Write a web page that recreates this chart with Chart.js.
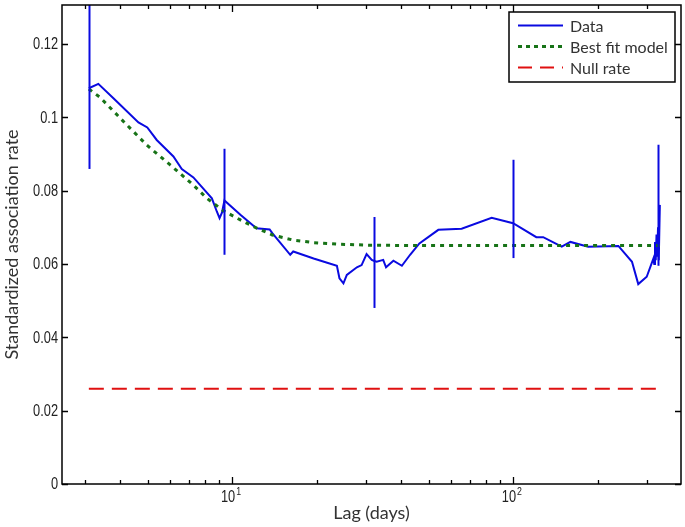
<!DOCTYPE html>
<html>
<head>
<meta charset="utf-8">
<script src="https://cdn.jsdelivr.net/npm/chart.js@4.4.1/dist/chart.umd.min.js"></script>
<style>
  html, body { margin: 0; padding: 0; background: #fff; }
  #wrap { width: 685px; height: 527px; }
</style>
</head>
<body>
<div id="wrap"><canvas id="chart"></canvas></div>
<script>
// observed association rate (blue)
const lagData = [3.09, 3.34, 3.78, 4.64, 4.99, 5.39, 6.18, 6.62, 7.28, 8.47, 8.82, 9.02, 9.2, 9.39,
  10.7, 12.2, 13.6, 13.9, 16.1, 16.5, 19.5, 23.6, 24.1, 24.9, 25.6, 27.8, 28.9, 30.1, 31.4, 32.1,
  32.7, 34.5, 35.3, 37.5, 40.2, 43, 46.4, 54.2, 65.6, 83.9, 100, 121, 128, 149, 160, 185, 237,
  265, 279, 299, 316, 318, 320, 322, 324, 326, 328, 330, 333];
const rateData = [0.1079, 0.1091, 0.1052, 0.0986, 0.0972, 0.0938, 0.0893, 0.0859, 0.0836, 0.0779,
  0.0743, 0.0725, 0.074, 0.0773, 0.0734, 0.0697, 0.0694, 0.0684, 0.0625, 0.0634, 0.0615, 0.0595,
  0.0561, 0.0547, 0.057, 0.0591, 0.0597, 0.0627, 0.0611, 0.0608, 0.0606, 0.0611, 0.0591, 0.0609,
  0.0595, 0.0625, 0.0656, 0.0693, 0.0696, 0.0726, 0.0711, 0.0673, 0.0673, 0.0647, 0.066, 0.0647,
  0.0649, 0.0606, 0.0545, 0.0565, 0.0615, 0.06, 0.066, 0.061, 0.068, 0.062, 0.07, 0.061, 0.0761];

// best fit model (green)
const fitLag = [3.09, 3.39, 4.22, 4.97, 6.02, 7.28, 8.13, 9.31, 10.7, 11.9, 13.9, 16.5, 19.5, 23.6, 31, 50, 100, 200, 333];
const fitRate = [0.1077, 0.1054, 0.0979, 0.0924, 0.087, 0.0815, 0.0779, 0.0745, 0.072, 0.0702,
  0.0679, 0.0665, 0.0658, 0.0654, 0.0651, 0.065, 0.065, 0.065, 0.065];

// null rate (red)
const nullLag = [3.09, 333];
const nullRate = [0.026, 0.026];

// error bars on the data
const errLag = [3.09, 9.39, 32.1, 100, 329];
const errLow = [0.0859, 0.0625, 0.048, 0.0616, 0.0595];
const errHigh = [0.135, 0.0914, 0.0728, 0.0884, 0.0925];

// axes
const xMajor = [10, 100];
const xMajorExp = ["1", "2"];
const xMinor = [3, 4, 5, 6, 7, 8, 9, 20, 30, 40, 50, 60, 70, 80, 90, 200, 300];
const yTicks = [0, 0.02, 0.04, 0.06, 0.08, 0.1, 0.12];
const yLabels = ["0", "0.02", "0.04", "0.06", "0.08", "0.1", "0.12"];

const BLUE = "#0a0ae0";
const GREEN = "#177317";
const RED = "#e01010";
const TITLE_FONT = "Lato, 'Open Sans', sans-serif";

function pts(xs, ys) {
  return xs.map(function (x, i) { return { x: x, y: ys[i] }; });
}

// narrow text: squeeze a normal sans horizontally
function narrowText(ctx, text, x, y, align) {
  ctx.save();
  ctx.translate(x, y);
  ctx.scale(0.8, 1);
  ctx.textAlign = align;
  ctx.fillText(text, 0, 0);
  ctx.restore();
}

const matlabBox = {
  id: "matlabBox",
  afterDatasetsDraw: function (chart) {
    const ctx = chart.ctx;
    const a = chart.chartArea;
    const xs = chart.scales.x, ys = chart.scales.y;

    // error bars
    ctx.save();
    ctx.beginPath();
    ctx.rect(a.left, a.top, a.right - a.left, a.bottom - a.top);
    ctx.clip();
    ctx.strokeStyle = BLUE;
    ctx.lineWidth = 2;
    errLag.forEach(function (lag, i) {
      const px = Math.round(xs.getPixelForValue(lag)) + 0.5;
      ctx.beginPath();
      ctx.moveTo(px, ys.getPixelForValue(errLow[i]));
      ctx.lineTo(px, ys.getPixelForValue(errHigh[i]));
      ctx.stroke();
    });
    ctx.restore();

    // frame and inward ticks
    ctx.save();
    ctx.strokeStyle = "#000";
    ctx.lineWidth = 1.5;
    ctx.strokeRect(a.left, a.top, a.right - a.left, a.bottom - a.top);
    ctx.lineWidth = 1.3;
    ctx.beginPath();
    xMajor.concat(xMinor).forEach(function (v) {
      const len = xMajor.indexOf(v) >= 0 ? 7 : 4;
      const px = Math.round(xs.getPixelForValue(v)) + 0.5;
      ctx.moveTo(px, a.bottom); ctx.lineTo(px, a.bottom - len);
      ctx.moveTo(px, a.top); ctx.lineTo(px, a.top + len);
    });
    yTicks.forEach(function (v) {
      const py = Math.round(ys.getPixelForValue(v)) + 0.5;
      ctx.moveTo(a.left, py); ctx.lineTo(a.left + 6, py);
      ctx.moveTo(a.right, py); ctx.lineTo(a.right - 6, py);
    });
    ctx.stroke();

    // tick labels
    ctx.fillStyle = "#222";
    ctx.textBaseline = "middle";
    ctx.font = "16px 'Liberation Sans', Arial, sans-serif";
    yTicks.forEach(function (v, i) {
      narrowText(ctx, yLabels[i], a.left - 4, ys.getPixelForValue(v) + 1, "right");
    });
    xMajor.forEach(function (v, i) {
      const px = xs.getPixelForValue(v);
      ctx.font = "16px 'Liberation Sans', Arial, sans-serif";
      narrowText(ctx, "10", px + 3, a.bottom + 14, "right");
      ctx.font = "11px 'Liberation Sans', Arial, sans-serif";
      narrowText(ctx, xMajorExp[i], px + 4, a.bottom + 8, "left");
    });

    // legend box
    const lx = 509, ly = 12, lw = 675 - 509, lh = 70;
    ctx.fillStyle = "#fff";
    ctx.fillRect(lx, ly, lw, lh);
    ctx.strokeStyle = "#000";
    ctx.lineWidth = 1.5;
    ctx.strokeRect(lx, ly, lw, lh);
    const items = [
      { text: "Data", color: BLUE, dash: [], width: 2 },
      { text: "Best fit model", color: GREEN, dash: [4, 4], width: 3 },
      { text: "Null rate", color: RED, dash: [14, 8], width: 2 }
    ];
    ctx.font = "16px " + TITLE_FONT;
    ctx.textBaseline = "middle";
    ctx.textAlign = "left";
    items.forEach(function (it, i) {
      const y = 25.5 + i * 21;
      ctx.strokeStyle = it.color;
      ctx.lineWidth = it.width;
      ctx.setLineDash(it.dash);
      ctx.beginPath();
      ctx.moveTo(518, y); ctx.lineTo(563, y);
      ctx.stroke();
      ctx.setLineDash([]);
      ctx.fillStyle = "#333";
      ctx.fillText(it.text, 570, y + 1);
    });
    ctx.restore();
  }
};

const ctx = document.getElementById("chart").getContext("2d");
const myChart = new Chart(ctx, {
  type: "line",
  data: {
    datasets: [
      {
        label: "Null rate",
        data: pts(nullLag, nullRate),
        borderColor: RED,
        borderWidth: 2,
        borderDash: [15, 8],
        pointRadius: 0,
        tension: 0
      },
      {
        label: "Best fit model",
        data: pts(fitLag, fitRate),
        borderColor: GREEN,
        borderWidth: 3,
        borderDash: [4, 5],
        pointRadius: 0,
        tension: 0
      },
      {
        label: "Data",
        data: pts(lagData, rateData),
        borderColor: BLUE,
        borderWidth: 2,
        pointRadius: 0,
        tension: 0
      }
    ]
  },
  options: {
    responsive: true,
    maintainAspectRatio: false,
    animation: false,
    layout: { padding: { top: 5, right: 4, left: 0, bottom: 0 } },
    plugins: {
      legend: { display: false },
      tooltip: { enabled: false }
    },
    scales: {
      x: {
        type: "logarithmic",
        min: 2.48,
        max: 396,
        grid: { display: false, drawTicks: false },
        border: { display: false },
        afterBuildTicks: function (scale) {
          scale.ticks = xMajor.map(function (v) { return { value: v }; });
        },
        afterFit: function (scale) { scale.height = 43; },
        ticks: { display: false },
        title: {
          display: true,
          text: "Lag (days)",
          color: "#333",
          font: { family: TITLE_FONT, size: 18 },
          padding: { top: 0, bottom: 3 }
        }
      },
      y: {
        min: 0,
        max: 0.1306,
        grid: { display: false, drawTicks: false },
        border: { display: false },
        afterBuildTicks: function (scale) {
          scale.ticks = yTicks.map(function (v) { return { value: v }; });
        },
        afterFit: function (scale) { scale.width = 62; },
        ticks: { display: false },
        title: {
          display: true,
          text: "Standardized association rate",
          color: "#333",
          font: { family: TITLE_FONT, size: 18 },
          padding: { top: 1, bottom: 0 }
        }
      }
    }
  },
  plugins: [matlabBox]
});
</script>
</body>
</html>
